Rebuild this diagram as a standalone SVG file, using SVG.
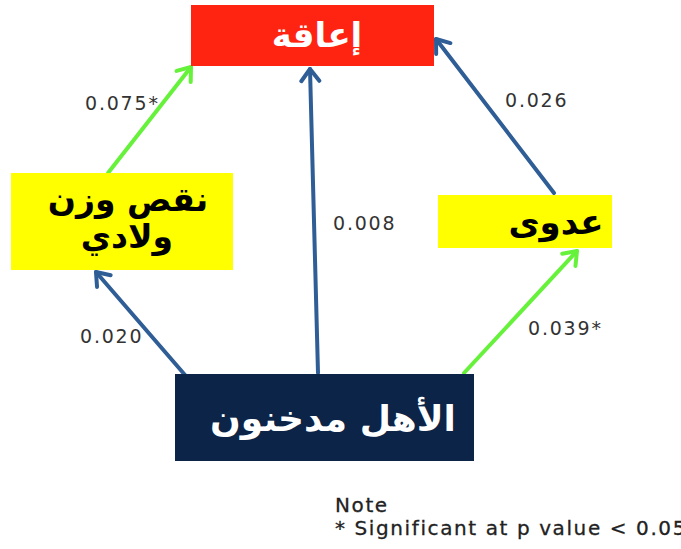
<svg xmlns="http://www.w3.org/2000/svg" width="681" height="549" viewBox="0 0 681 549">
<style>
.ar{font-family:"DejaVu Sans","Noto Sans",sans-serif;font-weight:bold;text-anchor:middle}
.num{font-family:"DejaVu Sans","Open Sans",sans-serif;font-size:19px;fill:#333333;letter-spacing:1.8px}
.note{font-family:"DejaVu Sans","Open Sans",sans-serif;font-size:20px;fill:#222222;letter-spacing:1.6px;stroke:#222222;stroke-width:0.3}
.blue{stroke:#2F5D96;stroke-width:4;fill:none;stroke-linecap:round}
.green{stroke:#66F23A;stroke-width:4;fill:none;stroke-linecap:round}
</style>
<defs>
<marker id="hb" markerUnits="userSpaceOnUse" viewBox="-16 -12 20 24" markerWidth="20" markerHeight="24" refX="0" refY="0" orient="auto">
<path d="M-12,-9 L0,0 L-12,9" fill="none" stroke="#2F5D96" stroke-width="4" stroke-linecap="round" stroke-linejoin="round"/>
</marker>
<marker id="hg" markerUnits="userSpaceOnUse" viewBox="-16 -12 20 24" markerWidth="20" markerHeight="24" refX="0" refY="0" orient="auto">
<path d="M-12,-9 L0,0 L-12,9" fill="none" stroke="#66F23A" stroke-width="4" stroke-linecap="round" stroke-linejoin="round"/>
</marker>
</defs>
<rect width="681" height="549" fill="#ffffff"/>
<g id="connectors">
<line class="green" x1="108" y1="173" x2="191" y2="67" marker-end="url(#hg)"/>
<line class="blue" x1="185" y1="375" x2="96" y2="272" marker-end="url(#hb)"/>
<line class="blue" x1="318" y1="373" x2="310" y2="69" marker-end="url(#hb)"/>
<line class="blue" x1="554" y1="193" x2="436" y2="39" marker-end="url(#hb)"/>
<line class="green" x1="464" y1="373" x2="577" y2="251" marker-end="url(#hg)"/>
</g>
<g id="labels">
<text class="num" x="85" y="110">0.075*</text>
<text class="num" x="80" y="343">0.020</text>
<text class="num" x="333" y="230">0.008</text>
<text class="num" x="505" y="107">0.026</text>
<text class="num" x="528" y="335">0.039*</text>
</g>
<g id="node-disability">
<rect x="191" y="5" width="243" height="61" fill="#FF2411"/>
<text class="ar" x="317" y="47" font-size="34" fill="#ffffff">إعاقة</text>
</g>
<g id="node-lowweight">
<rect x="11" y="173" width="222" height="97" fill="#FFFF00"/>
<text class="ar" x="128" y="211" font-size="33" fill="#000000">نقص وزن</text>
<text class="ar" x="127" y="248" font-size="33" fill="#000000">ولادي</text>
</g>
<g id="node-infection">
<rect x="438" y="195" width="174" height="53" fill="#FFFF00"/>
<text class="ar" x="556" y="234" font-size="34" fill="#000000">عدوى</text>
</g>
<g id="node-parents">
<rect x="175" y="374" width="299" height="87" fill="#0B2448"/>
<text class="ar" x="333" y="431" font-size="36" fill="#ffffff">الأهل مدخنون</text>
</g>
<g id="note">
<text class="note" x="335" y="512">Note</text>
<text class="note" x="335" y="535">* Significant at p value &lt; 0.05</text>
</g>
</svg>
